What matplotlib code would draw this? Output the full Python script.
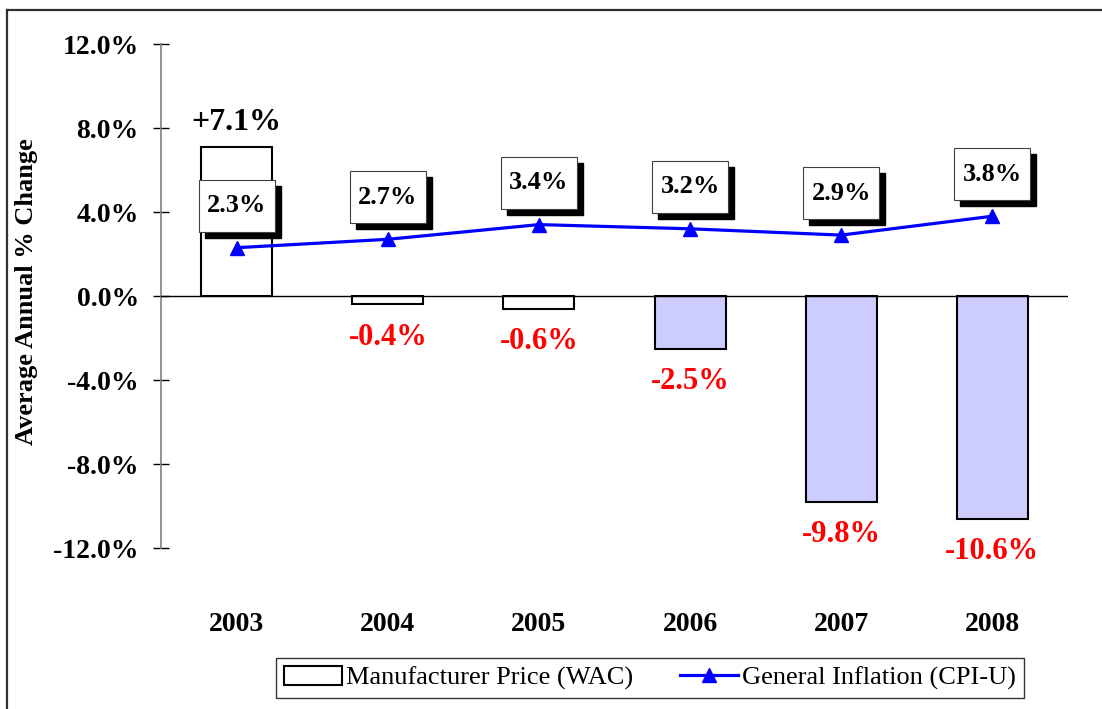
import matplotlib
matplotlib.use("Agg")
import matplotlib.pyplot as plt
from matplotlib.patches import Rectangle
from matplotlib.lines import Line2D
from matplotlib.ticker import FuncFormatter

plt.rcParams['font.family'] = ['Liberation Serif', 'DejaVu Serif']

# data
years = ['2003', '2004', '2005', '2006', '2007', '2008']
wac = [7.1, -0.4, -0.6, -2.5, -9.8, -10.6]
cpi = [2.3, 2.7, 3.4, 3.2, 2.9, 3.8]
wac_labels = ['+7.1%', '-0.4%', '-0.6%', '-2.5%', '-9.8%', '-10.6%']
bar_colors = ['white', 'white', 'white', '#CCCCFF', '#CCCCFF', '#CCCCFF']

W, H = 1102, 709
fig = plt.figure(figsize=(W / 100, H / 100), dpi=100)
ax_l, ax_r, ax_t, ax_b = 161, 1068, 44, 548
ax = fig.add_axes([ax_l / W, 1 - ax_b / H, (ax_r - ax_l) / W, (ax_b - ax_t) / H])

x = list(range(len(years)))
ax.set_xlim(-0.5, 5.5)
ax.set_ylim(-12, 12)

# pixel -> data conversion
dx = 6.0 / (ax_r - ax_l)
dy = 24.0 / (ax_b - ax_t)

ax.bar(x, wac, width=0.47, color=bar_colors, edgecolor='black', linewidth=1.5, zorder=2)
ax.axhline(0, color='black', linewidth=1.0, zorder=3)
ax.plot(x, cpi, color='#0000FF', linewidth=2.3, marker='^', markersize=10, zorder=4)

# bar value labels
for xi, v, lab in zip(x, wac, wac_labels):
    if v >= 0:
        ax.annotate(lab, (xi, v), xytext=(0, 24 * 0.72), textcoords='offset points',
                    ha='center', va='center', fontsize=23, fontweight='bold', color='black')
    else:
        ax.annotate(lab, (xi, v), xytext=(0, -33 * 0.72), textcoords='offset points',
                    ha='center', va='center', fontsize=22, fontweight='bold', color='#FF0000')

# CPI value boxes with shadow
bw, bh, up, sh = 76, 52, 42, 6
for xi, v in zip(x, cpi):
    cx = xi
    cy = v + up * dy
    x0 = cx - bw * dx / 2
    y0 = cy - bh * dy / 2
    ax.add_patch(Rectangle((x0 + sh * dx, y0 - sh * dy), bw * dx, bh * dy,
                           facecolor='black', edgecolor='black', zorder=5))
    ax.add_patch(Rectangle((x0, y0), bw * dx, bh * dy,
                           facecolor='white', edgecolor='#404040', linewidth=0.8, zorder=6))
    ax.text(cx, cy, f'{v:.1f}%', ha='center', va='center', fontsize=19,
            fontweight='bold', zorder=7)

# axes styling
for s in ['top', 'right', 'bottom']:
    ax.spines[s].set_visible(False)
ax.spines['left'].set_color('#808080')
ax.spines['left'].set_linewidth(1.2)
ax.set_yticks([-12, -8, -4, 0, 4, 8, 12])
ax.yaxis.set_major_formatter(FuncFormatter(lambda v, p: f'{v:.1f}%'))
ax.tick_params(axis='y', direction='inout', length=12, width=1, color='black',
               labelsize=20, pad=10)
for t in ax.get_yticklabels():
    t.set_fontweight('bold')
ax.set_xticks(x)
ax.set_xticklabels(years, fontsize=20, fontweight='bold')
ax.tick_params(axis='x', length=0, pad=46)
ax.set_ylabel('Average Annual % Change', fontsize=19, fontweight='bold')
ax.yaxis.set_label_coords(-(161 - 38) / (ax_r - ax_l), (ax_b - 292) / (ax_b - ax_t))

# legend
handles = [Rectangle((0, 0), 1, 1, facecolor='white', edgecolor='black', linewidth=1.5),
           Line2D([], [], color='#0000FF', linewidth=2.3, marker='^', markersize=10)]
leg = fig.legend(handles, ['Manufacturer Price (WAC)', 'General Inflation (CPI-U)'],
                 loc='center', bbox_to_anchor=(650 / W, 1 - 678 / H), ncol=2,
                 fontsize=19, frameon=True, fancybox=False, edgecolor='black',
                 handlelength=2.2, handletextpad=0.15, columnspacing=1.8,
                 borderpad=0.3, handleheight=0.7)
leg.get_frame().set_linewidth(1.0)

# outer frame (left and top edges visible)
fig.add_artist(Line2D([7 / W, 7 / W], [0, 1 - 10 / H], color='#303030', linewidth=1.6))
fig.add_artist(Line2D([7 / W, 1], [1 - 10 / H, 1 - 10 / H], color='#303030', linewidth=1.6))

fig.savefig('out.png', dpi=100)
